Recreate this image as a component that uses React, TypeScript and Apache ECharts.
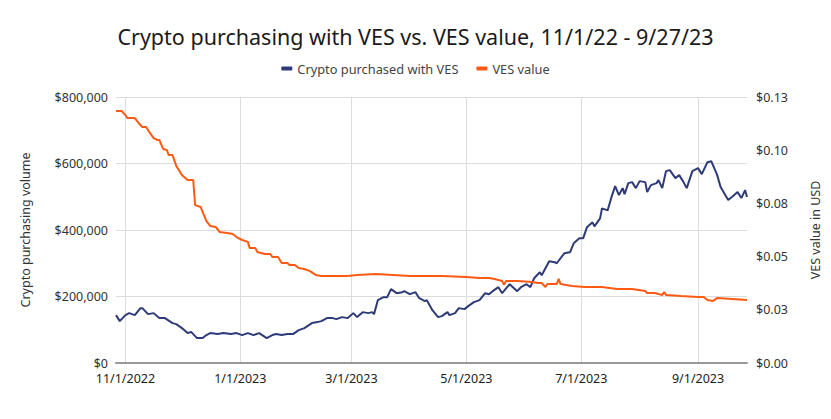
import React, { useEffect, useRef } from "react";
import * as echarts from "echarts";

const titleText = "Crypto purchasing with VES vs. VES value, 11/1/22 - 9/27/23";
const seriesNames = ["Crypto purchased with VES", "VES value"];
const leftAxisName = "Crypto purchasing volume";
const rightAxisName = "VES value in USD";
const xTickDates = ["2022-11-01", "2023-01-01", "2023-03-01", "2023-05-01", "2023-07-01", "2023-09-01"];
const xMin = "2022-10-27";
const xMax = "2023-09-27";

const cryptoDates = [
  "2022-10-27","2022-10-29","2022-11-01","2022-11-03","2022-11-06","2022-11-09","2022-11-10","2022-11-13","2022-11-16","2022-11-19",
  "2022-11-22","2022-11-26","2022-11-28","2022-12-01","2022-12-04","2022-12-06","2022-12-09","2022-12-12","2022-12-14","2022-12-16",
  "2022-12-20","2022-12-23","2022-12-27","2022-12-30","2023-01-02","2023-01-05","2023-01-08","2023-01-11","2023-01-15","2023-01-18",
  "2023-01-20","2023-01-23","2023-01-26","2023-01-29","2023-02-01","2023-02-04","2023-02-08","2023-02-11","2023-02-13","2023-02-16",
  "2023-02-19","2023-02-21","2023-02-24","2023-02-27","2023-03-02","2023-03-04","2023-03-07","2023-03-10","2023-03-12","2023-03-13",
  "2023-03-15","2023-03-18","2023-03-20","2023-03-22","2023-03-25","2023-03-28","2023-03-29","2023-04-01","2023-04-04","2023-04-06",
  "2023-04-09","2023-04-10","2023-04-13","2023-04-16","2023-04-18","2023-04-21","2023-04-22","2023-04-25","2023-04-27","2023-04-30",
  "2023-05-02","2023-05-05","2023-05-08","2023-05-11","2023-05-13","2023-05-15","2023-05-18","2023-05-20","2023-05-24","2023-05-28",
  "2023-05-30","2023-06-02","2023-06-04","2023-06-06","2023-06-09","2023-06-10","2023-06-14","2023-06-17","2023-06-18","2023-06-22",
  "2023-06-25","2023-06-27","2023-06-30","2023-07-02","2023-07-04","2023-07-07","2023-07-08","2023-07-11","2023-07-12","2023-07-15",
  "2023-07-17","2023-07-19","2023-07-21","2023-07-23","2023-07-24","2023-07-26","2023-07-28","2023-07-30","2023-08-01","2023-08-04",
  "2023-08-05","2023-08-07","2023-08-10","2023-08-11","2023-08-13","2023-08-15","2023-08-17","2023-08-20","2023-08-22","2023-08-24",
  "2023-08-26","2023-08-29","2023-09-01","2023-09-03","2023-09-06","2023-09-08","2023-09-11","2023-09-13","2023-09-17","2023-09-19",
  "2023-09-22","2023-09-24","2023-09-26","2023-09-27"
];
const cryptoVolume = [
  144000,126000,144000,150000,144000,165000,165000,147000,150000,135000,
  135000,120000,117000,105000,90000,93000,75000,75000,84000,90000,
  87000,90000,87000,90000,84000,90000,84000,90000,75000,84000,
  87000,84000,87000,87000,99000,105000,120000,123000,126000,135000,
  135000,132000,138000,135000,150000,138000,153000,150000,153000,147000,
  189000,198000,198000,222000,210000,213000,216000,207000,213000,195000,
  186000,189000,159000,138000,141000,153000,144000,150000,165000,162000,
  171000,183000,189000,210000,207000,216000,228000,210000,237000,216000,
  228000,237000,228000,255000,273000,264000,306000,303000,300000,330000,
  333000,360000,375000,375000,408000,423000,411000,435000,465000,459000,
  498000,532000,505000,526000,508000,541000,544000,526000,547000,544000,
  514000,535000,541000,550000,526000,577000,580000,556000,565000,547000,
  526000,577000,586000,568000,604000,607000,568000,529000,490000,499000,
  514000,496000,520000,499000
];

const vesDates = [
  "2022-10-27","2022-10-30","2022-11-01","2022-11-02","2022-11-06","2022-11-08","2022-11-10","2022-11-12","2022-11-14","2022-11-16",
  "2022-11-18","2022-11-19","2022-11-21","2022-11-23","2022-11-24","2022-11-26","2022-11-28","2022-11-30","2022-12-01","2022-12-04",
  "2022-12-07","2022-12-08","2022-12-11","2022-12-12","2022-12-14","2022-12-16","2022-12-19","2022-12-21","2022-12-25","2022-12-28",
  "2022-12-30","2023-01-02","2023-01-05","2023-01-06","2023-01-09","2023-01-10","2023-01-14","2023-01-17","2023-01-18","2023-01-21",
  "2023-01-23","2023-01-26","2023-01-27","2023-01-30","2023-02-01","2023-02-04","2023-02-07","2023-02-10","2023-02-13","2023-02-20",
  "2023-02-27","2023-03-04","2023-03-14","2023-03-23","2023-04-01","2023-04-18","2023-05-01","2023-05-08","2023-05-13","2023-05-16",
  "2023-05-20","2023-05-21","2023-05-22","2023-05-28","2023-06-05","2023-06-08","2023-06-10","2023-06-12","2023-06-13","2023-06-18",
  "2023-06-19","2023-06-20","2023-06-26","2023-07-03","2023-07-12","2023-07-20","2023-07-28","2023-08-04","2023-08-05","2023-08-09",
  "2023-08-11","2023-08-13","2023-08-14","2023-08-15","2023-08-23","2023-09-01","2023-09-04","2023-09-06","2023-09-09","2023-09-11",
  "2023-09-19","2023-09-27"
];
const vesValue = [
  0.1184,0.1184,0.1165,0.1151,0.1151,0.1128,0.1109,0.1109,0.1081,0.1057,
  0.1048,0.1048,0.1006,0.1001,0.0977,0.0977,0.0926,0.0898,0.0883,0.0860,
  0.0860,0.0742,0.0733,0.0710,0.0667,0.0644,0.0639,0.0616,0.0611,0.0606,
  0.0592,0.0578,0.0569,0.0540,0.0540,0.0522,0.0512,0.0512,0.0498,0.0498,
  0.0470,0.0470,0.0461,0.0461,0.0446,0.0442,0.0432,0.0414,0.0409,0.0409,
  0.0409,0.0414,0.0418,0.0414,0.0409,0.0409,0.0404,0.0399,0.0399,0.0395,
  0.0385,0.0367,0.0385,0.0385,0.0381,0.0376,0.0376,0.0357,0.0371,0.0371,
  0.0395,0.0371,0.0362,0.0357,0.0357,0.0348,0.0348,0.0338,0.0329,0.0329,
  0.0324,0.0320,0.0334,0.0320,0.0315,0.0310,0.0310,0.0296,0.0291,0.0305,
  0.0301,0.0296
];

function toTs(s: string): number {
  const [y, m, d] = s.split("-").map(Number);
  return new Date(y, m - 1, d).getTime();
}

const BLUE = "#2e3b78";
const ORANGE = "#ff5a14";
const FONT = "Noto Sans";

export default function App() {
  const ref = useRef<HTMLDivElement>(null);
  useEffect(() => {
    if (!ref.current) return;
    const chart = echarts.init(ref.current, null, { renderer: "svg" });
    const tickTs = xTickDates.map(toTs);
    chart.setOption({
      animation: false,
      backgroundColor: "#ffffff",
      textStyle: { fontFamily: FONT },
      title: {
        text: titleText,
        left: "center",
        top: 25,
        padding: 0,
        textStyle: { fontFamily: FONT, fontSize: 21.5, fontWeight: "normal", color: "#1a1a1a" },
      },
      legend: {
        top: 62,
        left: "center",
        padding: 0,
        itemWidth: 11,
        itemHeight: 4,
        itemGap: 18,
        icon: "roundRect",
        textStyle: { fontFamily: FONT, fontSize: 12.8, color: "#444" },
        data: seriesNames,
      },
      grid: { left: 116, right: 84, top: 97, bottom: 56, containLabel: false },
      xAxis: {
        type: "value",
        min: toTs(xMin),
        max: toTs(xMax),
        axisLine: { show: true, lineStyle: { color: "#999", width: 2 } },
        axisTick: { show: false, customValues: tickTs },
        axisLabel: {
          customValues: tickTs,
          color: "#222",
          fontFamily: FONT,
          fontSize: 12.5,
          margin: 9,
          formatter: (v: number) => {
            const d = new Date(v);
            return `${d.getMonth() + 1}/${d.getDate()}/${d.getFullYear()}`;
          },
        },
        splitLine: { show: true, lineStyle: { color: "#dcdcdc", width: 1 } },
      },
      yAxis: [
        {
          type: "value",
          min: 0,
          max: 800000,
          interval: 200000,
          name: leftAxisName,
          nameLocation: "middle",
          nameGap: 84,
          nameTextStyle: { fontFamily: FONT, fontSize: 12.5, color: "#333" },
          axisLine: { show: false },
          axisTick: { show: false },
          axisLabel: {
            color: "#333",
            fontFamily: FONT,
            fontSize: 12.5,
            margin: 8,
            formatter: (v: number) => "$" + v.toLocaleString("en-US"),
          },
          splitLine: { show: true, lineStyle: { color: "#dcdcdc", width: 1 } },
        },
        {
          type: "value",
          min: 0,
          max: 0.125,
          interval: 0.025,
          name: rightAxisName,
          nameLocation: "middle",
          nameGap: 62,
          nameTextStyle: { fontFamily: FONT, fontSize: 12.5, color: "#333" },
          axisLine: { show: false },
          axisTick: { show: false },
          axisLabel: {
            color: "#333",
            fontFamily: FONT,
            fontSize: 12.5,
            margin: 9,
            formatter: (v: number) => {
              const cents = Math.round(Math.round(v * 1000) / 10);
              return "$0." + String(cents).padStart(2, "0");
            },
          },
          splitLine: { show: false },
        },
      ],
      series: [
        {
          name: seriesNames[0],
          type: "line",
          yAxisIndex: 0,
          showSymbol: false,
          symbol: "none",
          lineStyle: { color: BLUE, width: 2 },
          itemStyle: { color: BLUE },
          data: cryptoDates.map((d, i) => [toTs(d), cryptoVolume[i]]),
        },
        {
          name: seriesNames[1],
          type: "line",
          yAxisIndex: 1,
          showSymbol: false,
          symbol: "none",
          lineStyle: { color: ORANGE, width: 2 },
          itemStyle: { color: ORANGE },
          data: vesDates.map((d, i) => [toTs(d), vesValue[i]]),
        },
      ],
    });
    return () => chart.dispose();
  }, []);
  return (
    <div
      ref={ref}
      style={{ position: "fixed", left: 0, top: 0, width: 831, height: 419, background: "#fff" }}
    />
  );
}
